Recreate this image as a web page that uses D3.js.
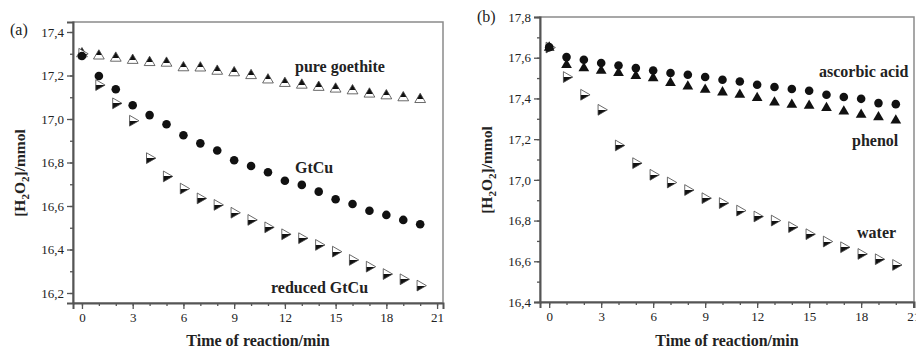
<!DOCTYPE html>
<html>
<head>
<meta charset="utf-8">
<script src="https://cdn.jsdelivr.net/npm/d3@7"></script>
<style>
  body { margin: 0; background: #fff; }
  svg { display: block; }
  text { font-family: "Liberation Serif", "DejaVu Serif", serif; fill: #222; }
</style>
</head>
<body>
<div id="chart"></div>
<script>
// time axis shared by both panels
const times = d3.range(0, 21);

// panel (a)
const pureGoethite = [17.30, 17.29, 17.28, 17.27, 17.26, 17.257, 17.236, 17.235, 17.22, 17.213, 17.20,
  17.18, 17.164, 17.156, 17.146, 17.138, 17.13, 17.115, 17.107, 17.098, 17.09];
const gtCu = [17.29, 17.198, 17.137, 17.063, 17.018, 16.976, 16.925, 16.888, 16.855, 16.81, 16.784,
  16.755, 16.716, 16.697, 16.666, 16.631, 16.609, 16.578, 16.559, 16.536, 16.516];
const reducedGtCu = [17.30, 17.156, 17.072, 16.992, 16.82, 16.736, 16.68, 16.635, 16.605, 16.569, 16.536,
  16.502, 16.47, 16.452, 16.421, 16.39, 16.352, 16.321, 16.287, 16.263, 16.234];

// panel (b)
const ascorbicAcid = [17.652, 17.603, 17.59, 17.574, 17.562, 17.549, 17.537, 17.525, 17.516, 17.505, 17.492,
  17.483, 17.467, 17.456, 17.446, 17.438, 17.418, 17.407, 17.398, 17.377, 17.372];
const phenol = [17.65, 17.565, 17.549, 17.536, 17.525, 17.511, 17.50, 17.476, 17.459, 17.443, 17.43,
  17.418, 17.402, 17.38, 17.369, 17.364, 17.353, 17.336, 17.32, 17.308, 17.292];
const water = [17.65, 17.505, 17.418, 17.344, 17.169, 17.082, 17.025, 16.987, 16.95, 16.91, 16.886,
  16.849, 16.82, 16.80, 16.768, 16.733, 16.697, 16.669, 16.636, 16.61, 16.582];

const xTicks = [0, 3, 6, 9, 12, 15, 18, 21];
const yTicksA = [16.2, 16.4, 16.6, 16.8, 17.0, 17.2, 17.4];
const yTicksB = [16.4, 16.6, 16.8, 17.0, 17.2, 17.4, 17.6, 17.8];

const width = 916, height = 349;
const svg = d3.select('#chart').append('svg')
  .attr('width', width)
  .attr('height', height);

// fills for the half-filled markers
const defs = svg.append('defs');
function halfFill(id, x2, y2, stops) {
  const g = defs.append('linearGradient').attr('id', id)
    .attr('x1', 0).attr('y1', 0).attr('x2', x2).attr('y2', y2);
  stops.forEach(s => g.append('stop').attr('offset', s[0]).attr('stop-color', s[1]));
}
halfFill('upHalf', 0, 1, [[0, '#111'], [0.62, '#111'], [0.62, '#fff'], [1, '#fff']]);
halfFill('rightHalf', 0, 1, [[0, '#fff'], [0.5, '#fff'], [0.5, '#111'], [1, '#111']]);

// right pointing triangle as a custom symbol type
const symbolTriangleRight = {
  draw(ctx, size) {
    const s = Math.sqrt(size * 4 / Math.sqrt(3));
    const h = s * Math.sqrt(3) / 2;
    ctx.moveTo(h * 2 / 3, 0);
    ctx.lineTo(-h / 3, -s / 2);
    ctx.lineTo(-h / 3, s / 2);
    ctx.closePath();
  }
};

const markers = {
  up: { type: d3.symbolTriangle, size: 50, fill: 'url(#upHalf)', stroke: '#444', sw: 0.8 },
  upSolid: { type: d3.symbolTriangle, size: 50, fill: '#111', stroke: 'none', sw: 0 },
  circle: { type: d3.symbolCircle, size: 58, fill: '#111', stroke: 'none', sw: 0 },
  right: { type: symbolTriangleRight, size: 50, fill: 'url(#rightHalf)', stroke: '#444', sw: 0.8 }
};

const panels = [
  {
    tag: '(a)', tagX: 10, tagY: 35,
    left: 73, top: 22, right: 443, bottom: 303,
    xDomain: [-0.53, 21.35], yDomain: [16.154, 17.446],
    yTicks: yTicksA, yMinor: d3.range(16.2, 17.45, 0.1),
    titleX: 20, titleY: 173,
    series: [
      { values: pureGoethite, marker: 'up' },
      { values: reducedGtCu, marker: 'right' },
      { values: gtCu, marker: 'circle' }
    ],
    labels: [
      { text: 'pure goethite', x: 295, y: 72 },
      { text: 'GtCu', x: 295, y: 173 },
      { text: 'reduced GtCu', x: 271, y: 293 }
    ]
  },
  {
    tag: '(b)', tagX: 477, tagY: 22,
    left: 540, top: 17, right: 914, bottom: 302,
    xDomain: [-0.53, 21.05], yDomain: [16.4, 17.8],
    yTicks: yTicksB, yMinor: d3.range(16.4, 17.85, 0.1),
    titleX: 487, titleY: 170,
    series: [
      { values: water, marker: 'right' },
      { values: phenol, marker: 'upSolid' },
      { values: ascorbicAcid, marker: 'circle' }
    ],
    labels: [
      { text: 'ascorbic acid', x: 819, y: 77 },
      { text: 'phenol', x: 852, y: 146 },
      { text: 'water', x: 857, y: 238 }
    ]
  }
];

panels.forEach(drawPanel);

function drawPanel(p) {
  const x = d3.scaleLinear().domain(p.xDomain).range([p.left, p.right]);
  const y = d3.scaleLinear().domain(p.yDomain).range([p.bottom, p.top]);
  const g = svg.append('g');

  // frame
  g.append('rect')
    .attr('x', p.left).attr('y', p.top)
    .attr('width', p.right - p.left).attr('height', p.bottom - p.top)
    .attr('fill', 'none').attr('stroke', '#8a8a8a').attr('stroke-width', 1.5);

  // x axis, major + minor ticks outward
  const xAxis = g.append('g').attr('transform', `translate(0,${p.bottom})`);
  xAxis.append('g')
    .call(d3.axisBottom(x).tickValues(d3.range(0, 22)).tickSize(3).tickFormat(''))
    .call(a => a.select('.domain').remove());
  xAxis.append('g')
    .call(d3.axisBottom(x).tickValues(xTicks).tickSize(6).tickPadding(4).tickFormat(d3.format('d')))
    .call(a => a.select('.domain').attr('stroke', '#555').attr('stroke-width', 2));

  // y axis
  const yAxis = g.append('g').attr('transform', `translate(${p.left},0)`);
  yAxis.append('g')
    .call(d3.axisLeft(y).tickValues(p.yMinor).tickSize(3).tickFormat(''))
    .call(a => a.select('.domain').remove());
  yAxis.append('g')
    .call(d3.axisLeft(y).tickValues(p.yTicks).tickSize(6).tickPadding(3)
      .tickFormat(d => d3.format('.1f')(d).replace('.', ',')))
    .call(a => a.select('.domain').attr('stroke', '#555').attr('stroke-width', 2));

  g.selectAll('.tick line').attr('stroke', '#555').attr('stroke-width', 1.3);
  g.selectAll('.tick text')
    .attr('font-size', 13)
    .style('font-family', '"Liberation Serif", serif')
    .attr('fill', '#333');

  // markers
  p.series.forEach(s => {
    const m = markers[s.marker];
    g.append('g').selectAll('path')
      .data(times.map(t => [t, s.values[t]]))
      .join('path')
        .attr('d', d3.symbol(m.type, m.size))
        .attr('transform', d => `translate(${x(d[0])},${y(d[1])})`)
        .attr('fill', m.fill)
        .attr('stroke', m.stroke)
        .attr('stroke-width', m.sw);
  });

  // series labels
  g.selectAll('.lbl')
    .data(p.labels)
    .join('text')
      .attr('class', 'lbl')
      .attr('x', d => d.x).attr('y', d => d.y)
      .attr('font-size', 16).attr('font-weight', 'bold')
      .text(d => d.text);

  // panel tag
  g.append('text')
    .attr('x', p.tagX).attr('y', p.tagY)
    .attr('font-size', 16)
    .text(p.tag);

  // axis titles
  g.append('text')
    .attr('x', (p.left + p.right) / 2).attr('y', 346)
    .attr('text-anchor', 'middle')
    .attr('font-size', 16).attr('font-weight', 'bold')
    .text('Time of reaction/min');

  const yt = g.append('text')
    .attr('transform', `translate(${p.titleX + 5},${p.titleY}) rotate(-90)`)
    .attr('text-anchor', 'middle')
    .attr('font-size', 15.5).attr('font-weight', 'bold');
  yt.append('tspan').text('[H');
  yt.append('tspan').attr('font-size', 11).attr('dy', 4).text('2');
  yt.append('tspan').attr('dy', -4).text('O');
  yt.append('tspan').attr('font-size', 11).attr('dy', 4).text('2');
  yt.append('tspan').attr('dy', -4).text(']/mmol');
}
</script>
</body>
</html>
